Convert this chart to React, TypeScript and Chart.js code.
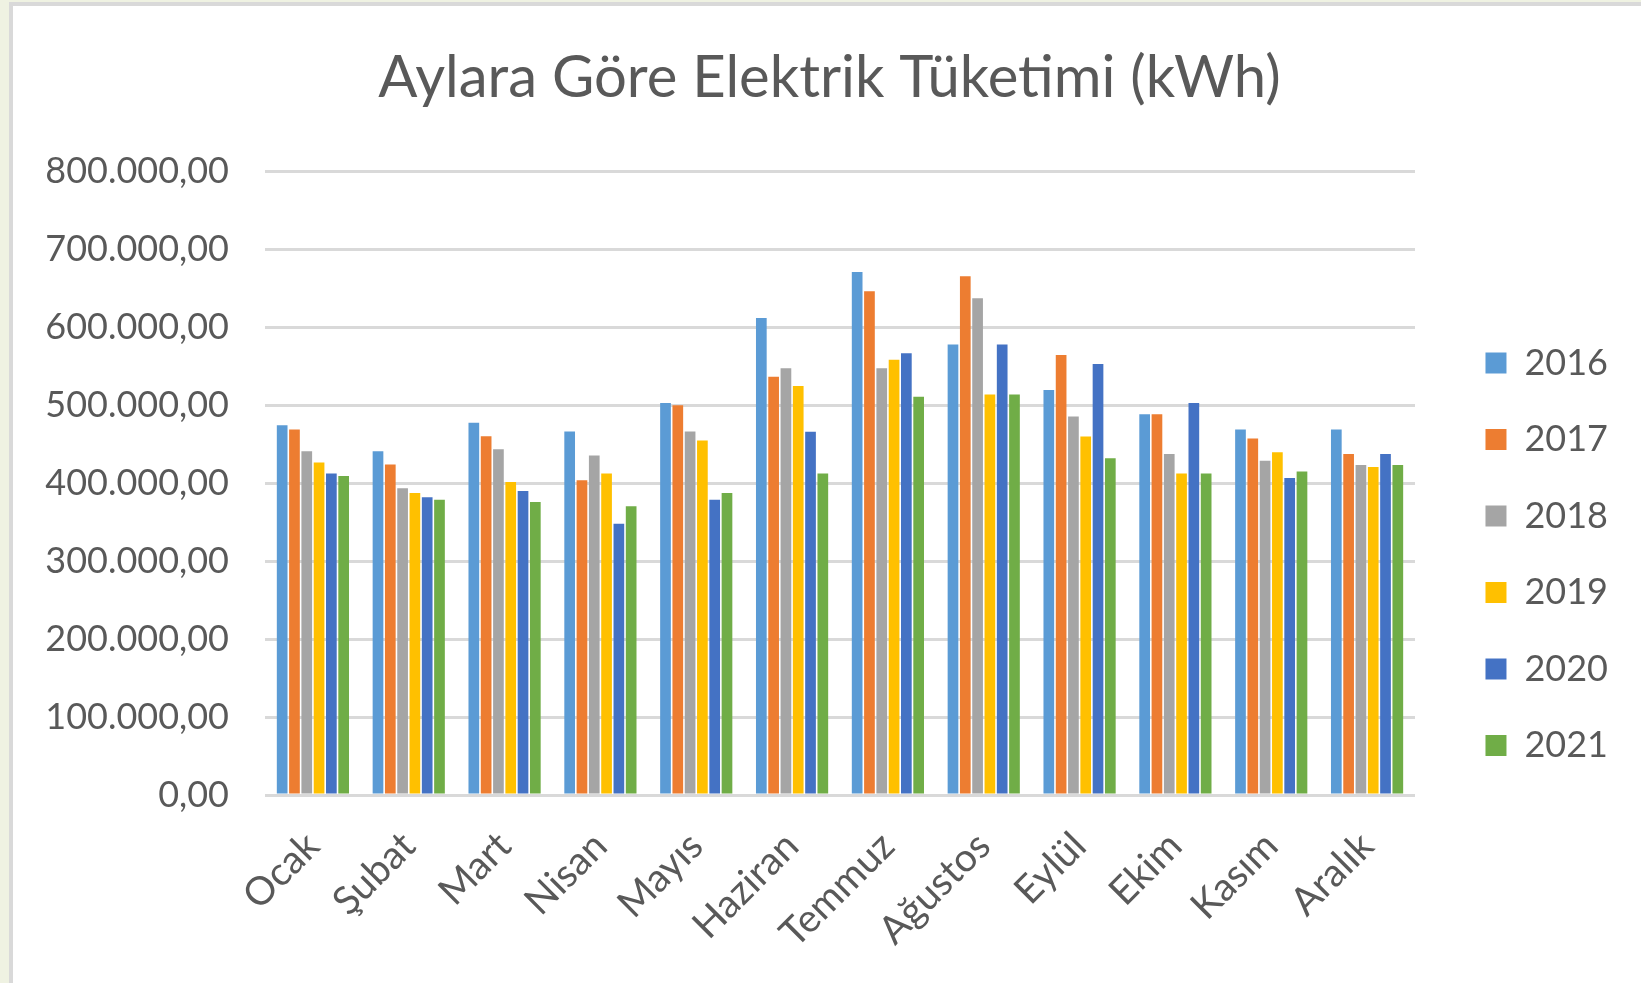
import React, { useEffect, useRef } from "react";
import { Chart, registerables } from "chart.js";

Chart.register(...registerables);

const chartTitle = "Aylara Göre Elektrik Tüketimi (kWh)";
const months = ["Ocak", "Şubat", "Mart", "Nisan", "Mayıs", "Haziran", "Temmuz", "Ağustos", "Eylül", "Ekim", "Kasım", "Aralık"];
const years = ["2016", "2017", "2018", "2019", "2020", "2021"];

const values2016 = [474600, 441000, 477600, 466500, 503000, 612000, 671000, 578000, 519600, 488700, 469000, 469000];
const values2017 = [469000, 424000, 460500, 404000, 500300, 536800, 646500, 665800, 564600, 488700, 457500, 437700];
const values2018 = [441000, 393600, 443700, 435600, 466500, 547500, 547500, 637500, 485800, 437700, 429000, 423500];
const values2019 = [426600, 387600, 401700, 412500, 455000, 525000, 558600, 514000, 460000, 412500, 440000, 421000];
const values2020 = [412500, 382000, 390000, 348000, 379000, 466000, 567000, 578000, 553000, 503000, 406800, 437700];
const values2021 = [409400, 379000, 376000, 370400, 387600, 412500, 511000, 514000, 432000, 412500, 415000, 423500];

const seriesValues = [values2016, values2017, values2018, values2019, values2020, values2021];
const seriesColors = ["#5B9BD5", "#ED7D31", "#A5A5A5", "#FFC000", "#4472C4", "#70AD47"];

const yMin = 0;
const yMax = 800000;
const yStep = 100000;

const FONT = "Lato, 'Open Sans', sans-serif";
const TEXT = "#595959";

function formatTR(v: number): string {
  const fixed = Math.abs(v).toFixed(2);
  const [intPart, dec] = fixed.split(".");
  const grouped = intPart.replace(/\B(?=(\d{3})+(?!\d))/g, ".");
  return (v < 0 ? "-" : "") + grouped + "," + dec;
}

export default function App() {
  const canvasRef = useRef<HTMLCanvasElement | null>(null);

  useEffect(() => {
    const canvas = canvasRef.current;
    if (!canvas) return;
    const chart = new Chart(canvas, {
      type: "bar",
      data: {
        labels: months,
        datasets: years.map((y, i) => ({
          label: y,
          data: seriesValues[i],
          backgroundColor: seriesColors[i],
          borderWidth: 0,
          barPercentage: 0.87,
          categoryPercentage: 0.77,
        })),
      },
      options: {
        responsive: false,
        animation: false,
        devicePixelRatio: 1,
        layout: { padding: { left: 41, right: 23, top: 0, bottom: 0 } },
        plugins: {
          tooltip: { enabled: false },
          title: {
            display: true,
            text: chartTitle,
            color: TEXT,
            font: { family: FONT, size: 58, weight: "normal" },
            padding: { top: 43, bottom: 59 },
          },
          legend: {
            display: true,
            position: "right",
            align: "center",
            title: {
              display: true,
              text: " ",
              font: { size: 10 },
              padding: { top: 0, bottom: 113.5 },
            },
            labels: {
              color: TEXT,
              font: { family: FONT, size: 36 },
              boxWidth: 21,
              boxHeight: 21,
              padding: 40.5,
            },
          },
        },
        scales: {
          x: {
            grid: { display: false, drawTicks: false },
            border: { display: false },
            ticks: {
              color: TEXT,
              font: { family: FONT, size: 39 },
              minRotation: 45,
              maxRotation: 45,
              padding: 28,
              autoSkip: false,
            },
            afterFit: (s: any) => {
              s.height = 188;
            },
          },
          y: {
            min: yMin,
            max: yMax,
            grid: { color: "#d9d9d9", lineWidth: 3, drawTicks: false },
            border: { display: false },
            ticks: {
              stepSize: yStep,
              color: TEXT,
              font: { family: FONT, size: 36 },
              padding: 36,
              callback: (v: any) => formatTR(Number(v)),
            },
            afterFit: (s: any) => {
              s.width = 224;
            },
          },
          yRight: {
            type: "linear",
            position: "right",
            display: true,
            grid: { display: false, drawTicks: false },
            border: { display: false },
            ticks: { display: false },
            afterFit: (s: any) => {
              s.width = 30;
            },
          },
        },
      } as any,
    });
    return () => chart.destroy();
  }, []);

  return (
    <div style={{ position: "fixed", left: 0, top: 0, width: 1641, height: 983, background: "#eff2e2", overflow: "hidden" }}>
      <div
        style={{
          position: "absolute",
          left: 9,
          top: 2,
          right: 0,
          bottom: 0,
          background: "#ffffff",
          borderLeft: "4px solid #d9d9d9",
          borderTop: "4px solid #d9d9d9",
        }}
      />
      <canvas
        ref={canvasRef}
        width={1641}
        height={983}
        style={{ position: "absolute", left: 0, top: 0, width: 1641, height: 983 }}
      />
    </div>
  );
}
